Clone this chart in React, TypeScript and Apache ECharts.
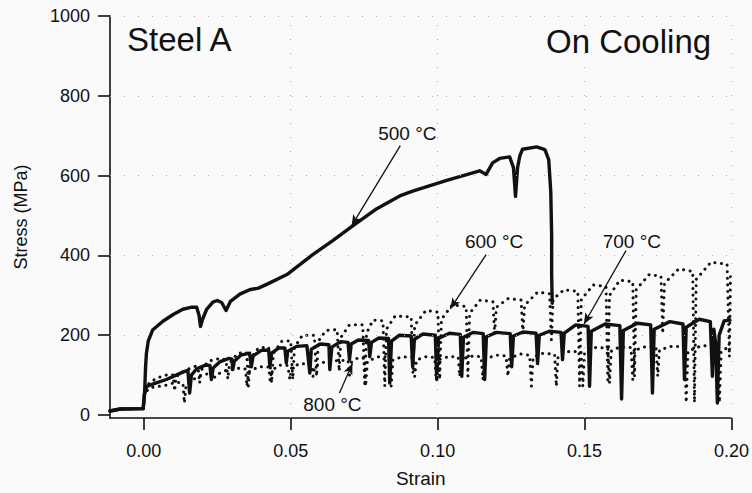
import React, { useEffect, useRef } from "react";
import * as echarts from "echarts";

// ---- data (strain, stress MPa) ----
const xTicks = [0, 0.05, 0.1, 0.15, 0.2];
const yTicks = [0, 200, 400, 600, 800, 1000];

const preload: number[][] = [
  [-0.0115, 10], [-0.008, 15], [-0.0002, 16],
];

const curve500: number[][] = [
  [0.0003, 60], [0.0006, 120], [0.0009, 155], [0.0015, 185], [0.003, 213],
  [0.0065, 235], [0.010, 252], [0.0133, 265], [0.016, 270], [0.018, 270],
  [0.0188, 250], [0.0193, 222], [0.0200, 240], [0.0214, 265], [0.0235, 283],
  [0.025, 287], [0.0265, 282], [0.028, 262], [0.0295, 285], [0.0327, 303],
  [0.036, 314], [0.039, 318], [0.042, 328], [0.0487, 352], [0.0575, 402],
  [0.0643, 437], [0.0711, 474], [0.0793, 517], [0.0871, 549], [0.0915, 561],
  [0.1031, 588], [0.1143, 612], [0.1165, 603], [0.1187, 632], [0.1211, 643],
  [0.1245, 647], [0.1258, 620], [0.1265, 548], [0.1272, 620], [0.128, 650],
  [0.1289, 666], [0.1337, 672], [0.1365, 665], [0.1378, 640], [0.1385, 560],
  [0.1388, 450], [0.1388, 350], [0.139, 280],
];

const curve700: number[][] = [
  [0.0002, 50], [0.001, 72], [0.004, 80], [0.0077, 89], [0.011, 100],
  [0.0135, 108], [0.0150, 112], [0.0156, 55], [0.0162, 100], [0.018, 116],
  [0.021, 125], [0.0225, 124], [0.023, 89], [0.0236, 118], [0.026, 134],
  [0.029, 142], [0.0300, 140], [0.0303, 114], [0.0308, 135], [0.033, 150],
  [0.036, 155], [0.0366, 121], [0.0372, 148], [0.040, 162], [0.0425, 163],
  [0.0429, 121], [0.0435, 155], [0.046, 168], [0.048, 168], [0.0485, 130],
  [0.049, 160], [0.052, 172], [0.0555, 174], [0.0565, 105], [0.057, 165],
  [0.060, 178], [0.063, 176], [0.0633, 114], [0.064, 170], [0.067, 184],
  [0.0695, 182], [0.070, 139], [0.0706, 178], [0.073, 188], [0.0765, 187],
  [0.0769, 146], [0.0775, 182], [0.080, 193], [0.0833, 192], [0.0837, 80],
  [0.0843, 185], [0.087, 200], [0.091, 198], [0.0915, 121], [0.0921, 190],
  [0.095, 203], [0.0992, 200], [0.0997, 89], [0.1003, 192], [0.104, 205],
  [0.1077, 202], [0.1082, 97], [0.1088, 195], [0.112, 207], [0.1155, 204],
  [0.116, 89], [0.1166, 196], [0.120, 207], [0.1247, 204], [0.1252, 121],
  [0.1258, 198], [0.129, 208], [0.1335, 205], [0.134, 129], [0.1346, 200],
  [0.138, 210], [0.142, 207], [0.1425, 139], [0.1431, 205], [0.147, 226],
  [0.1512, 222], [0.1517, 72], [0.1523, 210], [0.157, 228], [0.162, 224],
  [0.1626, 40], [0.1632, 212], [0.168, 230], [0.1725, 226], [0.1731, 55],
  [0.1737, 215], [0.179, 234], [0.1835, 228], [0.184, 89], [0.1846, 220],
  [0.189, 240], [0.1928, 234], [0.1935, 97], [0.194, 215], [0.1946, 180],
  [0.1952, 30], [0.1958, 200], [0.1975, 236], [0.1995, 238],
];

const curve600: number[][] = [
  [0.0003, 60], [0.002, 82], [0.005, 94], [0.0085, 102], [0.0100, 100],
  [0.0105, 60], [0.011, 96], [0.014, 112], [0.0175, 122], [0.0185, 118],
  [0.019, 80], [0.0195, 112], [0.022, 135], [0.026, 142], [0.0280, 138],
  [0.0286, 90], [0.0292, 130], [0.032, 155], [0.0350, 156], [0.0356, 72],
  [0.0362, 140], [0.039, 168], [0.0425, 170], [0.0435, 80], [0.0441, 155],
  [0.047, 185], [0.0500, 186], [0.0507, 89], [0.0513, 170], [0.054, 200],
  [0.0580, 200], [0.0588, 97], [0.0594, 185], [0.062, 212], [0.0658, 214],
  [0.0665, 110], [0.0671, 195], [0.070, 226], [0.0745, 226], [0.0752, 72],
  [0.0758, 205], [0.078, 238], [0.0814, 236], [0.082, 72], [0.0826, 215],
  [0.0855, 248], [0.0910, 246], [0.0916, 104], [0.0922, 225], [0.096, 262],
  [0.1001, 258], [0.1007, 89], [0.1013, 240], [0.105, 276], [0.1097, 272],
  [0.1103, 97], [0.1109, 255], [0.1145, 288], [0.1188, 284], [0.1194, 204],
  [0.120, 270], [0.124, 292], [0.1284, 288], [0.129, 204], [0.1296, 275],
  [0.134, 308], [0.1381, 304], [0.1387, 188], [0.1393, 290], [0.143, 314],
  [0.1477, 310], [0.1483, 72], [0.1489, 290], [0.153, 326], [0.1573, 322],
  [0.1579, 80], [0.1585, 300], [0.162, 338], [0.1664, 334], [0.167, 97],
  [0.1676, 315], [0.172, 352], [0.1760, 348], [0.1766, 204], [0.1772, 330],
  [0.182, 366], [0.1868, 360], [0.1874, 31], [0.188, 340], [0.193, 383],
  [0.1985, 378], [0.1993, 146], [0.1997, 362],
];

const curve800: number[][] = [
  [0.0003, 55], [0.002, 68], [0.0077, 75], [0.011, 82], [0.0133, 80],
  [0.0138, 30], [0.0144, 75], [0.018, 95], [0.022, 104], [0.0233, 100],
  [0.0238, 89], [0.0244, 100], [0.028, 112], [0.033, 118], [0.0346, 115],
  [0.0351, 72], [0.0357, 108], [0.039, 121], [0.0425, 120], [0.0431, 80],
  [0.0437, 112], [0.046, 125], [0.049, 124], [0.0497, 89], [0.0503, 118],
  [0.053, 129], [0.057, 127], [0.0576, 97], [0.0582, 122], [0.062, 135],
  [0.0695, 137], [0.0700, 100], [0.0706, 132], [0.073, 144], [0.0750, 142],
  [0.0755, 72], [0.0761, 135], [0.080, 146], [0.0835, 145], [0.0842, 72],
  [0.0848, 138], [0.088, 146], [0.0916, 144], [0.0922, 97], [0.0928, 138],
  [0.096, 146], [0.0990, 144], [0.0995, 89], [0.1001, 138], [0.104, 147],
  [0.1070, 145], [0.1075, 97], [0.1081, 140], [0.112, 148], [0.1148, 146],
  [0.1154, 89], [0.116, 140], [0.120, 150], [0.1233, 148], [0.1239, 97],
  [0.1245, 142], [0.128, 153], [0.1313, 150], [0.1319, 72], [0.1325, 145],
  [0.136, 155], [0.1398, 152], [0.1404, 72], [0.141, 148], [0.145, 160],
  [0.1488, 158], [0.1494, 72], [0.15, 155], [0.154, 170], [0.1579, 167],
  [0.1585, 80], [0.1591, 160], [0.162, 171], [0.1658, 169], [0.1664, 89],
  [0.167, 162], [0.171, 172], [0.1743, 170], [0.1749, 97], [0.1755, 163],
  [0.180, 173], [0.1840, 170], [0.1846, 31], [0.1852, 160], [0.190, 174],
  [0.1953, 171], [0.1959, 31], [0.1965, 160], [0.1995, 172],
];

// annotation labels
const labelNames = ["500 °C", "600 °C", "700 °C", "800 °C"];
const labelPos: number[][] = [
  [0.0897, 705], [0.1192, 434], [0.1661, 434], [0.0642, 27],
];
// arrows: tail -> head
const arrowTail: number[][] = [
  [0.0873, 675], [0.1165, 402], [0.1641, 412], [0.0666, 55],
];
const arrowHead: number[][] = [
  [0.0707, 474], [0.1043, 266], [0.1498, 228], [0.0710, 129],
];

const FONT = "'Liberation Sans', Arial, Helvetica, sans-serif";
const INK = "#111";

export default function App() {
  const ref = useRef<HTMLDivElement>(null);

  useEffect(() => {
    if (!ref.current) return;
    const chart = echarts.init(ref.current, undefined, { renderer: "svg" });

    const gridLines: any[] = [];
    yTicks.filter((v) => v > 0).forEach((v) => gridLines.push({ yAxis: v }));
    xTicks.filter((v) => v > 0).forEach((v) => gridLines.push({ xAxis: v }));

    const solid = (w: number) => ({ color: INK, width: w, type: "solid" as const, cap: "round" as const, join: "round" as const });
    const dotted = { color: INK, width: 3, type: [0.1, 6.5], cap: "round" as const, join: "round" as const };

    chart.setOption({
      animation: false,
      backgroundColor: "#fafafa",
      textStyle: { fontFamily: FONT },
      grid: { left: 110, right: 19, top: 16, bottom: 71, containLabel: false },
      xAxis: {
        type: "value",
        min: -0.0115,
        max: 0.2,
        name: "Strain",
        nameLocation: "middle",
        nameGap: 51,
        nameTextStyle: { fontSize: 19, color: INK, fontFamily: FONT },
        axisLine: { show: true, onZero: false, lineStyle: { color: INK, width: 1.6 } },
        axisTick: { show: true, length: 12, customValues: xTicks, lineStyle: { color: INK, width: 1.6 } },
        axisLabel: {
          customValues: xTicks,
          fontSize: 18,
          color: INK,
          margin: 24,
          fontFamily: FONT,
          formatter: (v: number) => v.toFixed(2),
        },
        splitLine: { show: false },
      },
      yAxis: {
        type: "value",
        min: -7.5,
        max: 1000,
        name: "Stress (MPa)",
        nameLocation: "middle",
        nameGap: 80,
        nameRotate: 90,
        nameTextStyle: { fontSize: 18, color: INK, fontFamily: FONT },
        axisLine: { show: true, onZero: false, lineStyle: { color: INK, width: 1.6 } },
        axisTick: { show: true, length: 12, customValues: yTicks, lineStyle: { color: INK, width: 1.6 } },
        axisLabel: {
          customValues: yTicks,
          fontSize: 18,
          color: INK,
          margin: 20,
          fontFamily: FONT,
          formatter: (v: number) => String(Math.round(v)),
        },
        splitLine: { show: false },
      },
      graphic: [
        {
          type: "text",
          left: 127,
          top: 23,
          style: { text: "Steel A", fontSize: 33, fontFamily: FONT, fill: INK },
        },
        {
          type: "text",
          left: 546,
          top: 25,
          style: { text: "On Cooling", fontSize: 33, fontFamily: FONT, fill: INK },
        },
      ],
      series: [
        {
          type: "line",
          name: "grid",
          data: [],
          silent: true,
          markLine: {
            silent: true,
            symbol: ["none", "none"],
            label: { show: false },
            lineStyle: { color: "#b0b0b0", width: 1, type: [1, 13] },
            data: gridLines,
          },
        },
        {
          type: "line",
          name: "800 °C",
          data: preload.concat(curve800),
          showSymbol: false,
          lineStyle: dotted,
          z: 3,
        },
        {
          type: "line",
          name: "600 °C",
          data: preload.concat(curve600),
          showSymbol: false,
          lineStyle: dotted,
          z: 3,
        },
        {
          type: "line",
          name: "700 °C",
          data: preload.concat(curve700),
          showSymbol: false,
          lineStyle: solid(3.4),
          z: 4,
        },
        {
          type: "line",
          name: "500 °C",
          data: preload.concat(curve500),
          showSymbol: false,
          lineStyle: solid(3.4),
          z: 4,
        },
        {
          type: "line",
          name: "annotations",
          data: [],
          silent: true,
          z: 6,
          markLine: {
            silent: true,
            symbol: ["none", "arrow"],
            symbolSize: [7, 11],
            label: { show: false },
            lineStyle: { color: INK, width: 1.3, type: "solid" },
            data: arrowTail.map((t, i) => [
              { coord: t },
              { coord: arrowHead[i] },
            ]),
          },
          markPoint: {
            silent: true,
            symbol: "rect",
            symbolSize: 1,
            itemStyle: { color: "rgba(0,0,0,0)" },
            label: {
              show: true,
              position: "inside",
              color: INK,
              fontSize: 19,
              fontFamily: FONT,
              formatter: (p: any) => p.name,
            },
            data: labelPos.map((p, i) => ({ name: labelNames[i], coord: p })),
          },
        },
      ],
    });

    return () => chart.dispose();
  }, []);

  return (
    <div
      ref={ref}
      style={{ position: "fixed", left: 0, top: 0, width: 752, height: 493 }}
    />
  );
}
